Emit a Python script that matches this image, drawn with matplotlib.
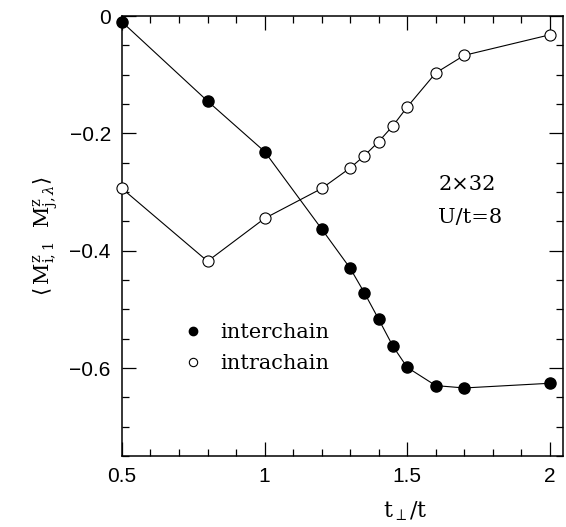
import matplotlib
matplotlib.use("Agg")
import matplotlib.pyplot as plt
from matplotlib.lines import Line2D
from matplotlib.ticker import MultipleLocator

# t_perp / t values
t_perp = [0.5, 0.8, 1.0, 1.2, 1.3, 1.35, 1.4, 1.45, 1.5, 1.6, 1.7, 2.0]

# spin correlations
interchain = [-0.010, -0.145, -0.231, -0.363, -0.430, -0.472, -0.517,
              -0.563, -0.599, -0.630, -0.634, -0.626]
intrachain = [-0.294, -0.418, -0.345, -0.294, -0.259, -0.238, -0.214,
              -0.187, -0.155, -0.097, -0.067, -0.032]

x_ticks = [0.5, 1.0, 1.5, 2.0]
x_ticklabels = ["0.5", "1", "1.5", "2"]
y_ticks = [0.0, -0.2, -0.4, -0.6]
y_ticklabels = ["0", "\u22120.2", "\u22120.4", "\u22120.6"]

plt.rcParams["mathtext.fontset"] = "dejavuserif"

fig = plt.figure(figsize=(5.66, 5.27), dpi=100)
ax = fig.add_axes([0.2155, 0.1347, 0.7792, 0.8349])

ax.plot(t_perp, interchain, color="black", lw=0.8, marker="o", ms=8,
        mfc="black", mec="black", clip_on=False, zorder=3)
ax.plot(t_perp, intrachain, color="black", lw=0.8, marker="o", ms=8,
        mfc="white", mec="black", mew=0.8, clip_on=False, zorder=3)

ax.set_xlim(0.5, 2.046)
ax.set_ylim(-0.75, 0.0)
ax.set_xticks(x_ticks)
ax.set_xticklabels(x_ticklabels)
ax.set_yticks(y_ticks)
ax.set_yticklabels(y_ticklabels)
ax.xaxis.set_minor_locator(MultipleLocator(0.1))
ax.yaxis.set_minor_locator(MultipleLocator(0.05))
ax.tick_params(which="both", direction="in", top=True, right=True,
               width=0.9, labelsize=15)
ax.tick_params(which="major", length=10, pad=8)
ax.tick_params(which="minor", length=5)
for lbl in ax.get_xticklabels() + ax.get_yticklabels():
    lbl.set_fontfamily("Liberation Sans")
for sp in ax.spines.values():
    sp.set_linewidth(1.1)

ax.set_ylabel(r"$\langle\,\mathrm{M}^{\mathrm{z}}_{\mathrm{i,1}}\ \ \mathrm{M}^{\mathrm{z}}_{\mathrm{j},\lambda}\rangle$",
              fontsize=15, labelpad=6)
fig.text(405 / 566, 1 - 511 / 527, r"$\mathrm{t}_{\perp}/\mathrm{t}$",
         fontsize=16, ha="center", va="center")

ax.text(0.717, 0.616, "2\u00d732", transform=ax.transAxes, fontsize=15,
        family="DejaVu Serif", va="center", ha="left")
ax.text(0.717, 0.543, "U/t=8", transform=ax.transAxes, fontsize=15,
        family="DejaVu Serif", va="center", ha="left")

handles = [
    Line2D([], [], ls="none", marker="o", ms=6, mfc="black", mec="black"),
    Line2D([], [], ls="none", marker="o", ms=6, mfc="white", mec="black", mew=0.8),
]
ax.legend(handles, ["interchain", "intrachain"], loc="center left",
          bbox_to_anchor=(0.095, 0.245), frameon=False, handlelength=1.0,
          handletextpad=0.8, labelspacing=0.55,
          prop={"family": "DejaVu Serif", "size": 15})

fig.savefig("out.png", dpi=100)
